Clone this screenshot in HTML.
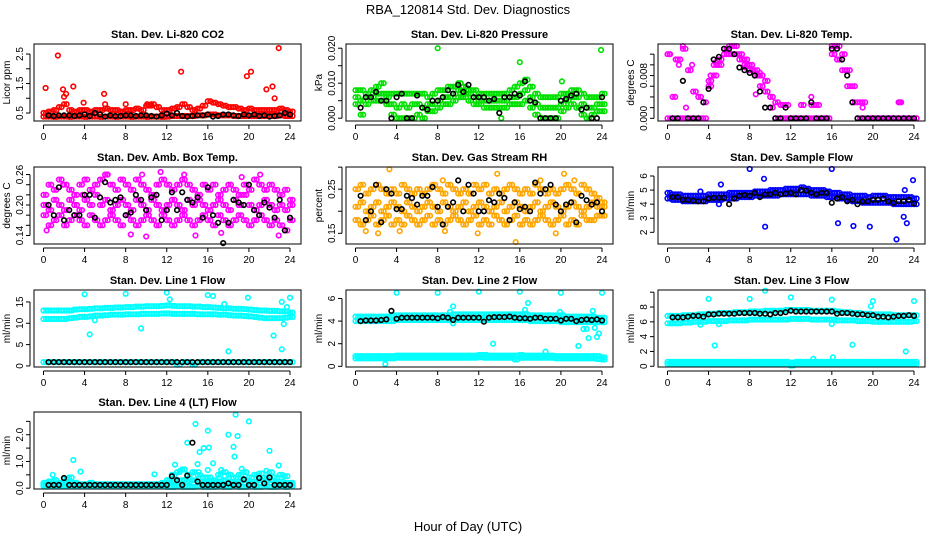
<!DOCTYPE html>
<html><head><meta charset="utf-8"><style>
body{margin:0;background:#fff}
svg{display:block;font-family:"Liberation Sans",sans-serif}
</style></head><body>
<svg id="chart" width="936" height="540" viewBox="0 0 936 540">
<text x="468" y="14" text-anchor="middle" font-size="13">RBA_120814  Std. Dev. Diagnostics</text>
<text x="468" y="531" text-anchor="middle" font-size="13">Hour of Day (UTC)</text>
</svg>
<script>
const xTicks=[0,4,8,12,16,20,24];
// panel 1 CO2
const co2Hi=[0.5,0.55,0.6,0.7,0.8,0.6,0.55,0.6,0.6,0.55,0.6,0.6,0.65,0.6,0.6,0.55,0.6,0.6,0.65,0.6,0.75,0.8,0.7,0.6,0.6,0.65,0.7,0.8,0.7,0.6,0.65,0.75,0.9,0.85,0.8,0.75,0.7,0.7,0.65,0.6,0.65,0.6,0.6,0.6,0.6,0.6,0.65,0.6,0.55];
const co2Lo=[0.38,0.38,0.37,0.38,0.38,0.37,0.38,0.38,0.37,0.38,0.38,0.37,0.38,0.38,0.37,0.38,0.38,0.37,0.38,0.38,0.37,0.38,0.38,0.37,0.38,0.4,0.4,0.4,0.4,0.4,0.42,0.42,0.45,0.45,0.42,0.42,0.42,0.4,0.4,0.4,0.4,0.4,0.4,0.4,0.4,0.4,0.42,0.4,0.4];
const co2Out=[[0.2,1.35],[1.4,2.45],[1.9,1.3],[2.0,1.05],[2.2,1.15],[2.9,1.4],[3.9,0.85],[5.9,1.15],[6.0,0.8],[13.4,1.9],[19.8,1.75],[20.2,1.9],[21.7,1.3],[22.3,1.4],[22.5,1.0],[22.9,2.7],[10.1,0.8],[10.5,0.75],[8.0,0.8]];
const co2Mean=[0.42,0.4,0.42,0.42,0.42,0.4,0.42,0.45,0.4,0.5,0.45,0.38,0.42,0.4,0.4,0.42,0.42,0.4,0.42,0.42,0.4,0.38,0.42,0.48,0.42,0.5,0.4,0.38,0.4,0.42,0.42,0.45,0.38,0.4,0.45,0.45,0.42,0.4,0.45,0.42,0.45,0.4,0.42,0.38,0.4,0.42,0.5,0.45];
// panel 2 pressure
const presHi=[0.008,0.008,0.007,0.008,0.009,0.01,0.007,0.007,0.007,0.007,0.007,0.007,0.007,0.007,0.006,0.007,0.008,0.008,0.009,0.009,0.01,0.009,0.008,0.008,0.007,0.007,0.007,0.007,0.007,0.007,0.008,0.009,0.01,0.011,0.009,0.007,0.006,0.006,0.006,0.006,0.007,0.007,0.008,0.008,0.007,0.006,0.006,0.006,0.007];
const presMid=[0.006,0.005,0.006,0.006,0.007,0.007,0.006,0.004,0.003,0.004,0.003,0.004,0.004,0.003,0.004,0.004,0.005,0.006,0.006,0.007,0.008,0.007,0.007,0.006,0.005,0.005,0.005,0.005,0.005,0.005,0.006,0.006,0.007,0.008,0.006,0.004,0.003,0.003,0.003,0.003,0.004,0.005,0.006,0.006,0.004,0.003,0.003,0.004,0.004];
const presLo=[0.004,0.001,0.004,0.005,0.005,0.005,0.004,0.001,0.0,0.0,0.0,0.0,0.001,0.0,0.002,0.002,0.003,0.004,0.004,0.005,0.006,0.006,0.005,0.004,0.004,0.003,0.003,0.003,0.003,0.003,0.004,0.004,0.004,0.005,0.003,0.001,0.0,0.0,0.0,0.0,0.002,0.003,0.004,0.003,0.001,0.0,0.001,0.002,0.002];
const presOut=[[8,0.02],[16,0.016],[20.1,0.0105],[23.9,0.0195],[14.2,0.0]];
const presMean=[0.003,0.006,0.006,0.0075,0.005,0.005,0.0,0.006,0.007,0.0,0.0,0.0065,0.003,0.0025,0.005,0.005,0.006,0.008,0.007,0.0095,0.0075,0.0095,0.006,0.006,0.006,0.005,0.0055,0.0015,0.006,0.006,0.007,0.0065,0.0105,0.005,0.0045,0.0,0.0,0.0,0.0,0.005,0.0055,0.0065,0.007,0.0025,0.003,0.0,0.0,0.006];
// panel 3 temp
const tempHi=[0.012,0.004,0.011,0.013,0.009,0.005,0.004,0.003,0.007,0.010,0.011,0.013,0.0135,0.0135,0.012,0.011,0.010,0.009,0.008,0.007,0.004,0.003,0.0025,0.0025,0.0,0.0,0.0025,0.0,0.0025,0.0025,0.0,0.0,0.0135,0.0135,0.012,0.009,0.006,0.003,0.003,0.0,0.0,0.0,0.0,0.0,0.0,0.003,0.0,0.0,0.0];
const tempLo=[0,0,0,0,0,0,0,0,0.006,0.008,0.010,0.012,0.012,0.012,0.011,0.010,0.009,0.008,0.006,0.005,0.002,0,0,0,0,0,0,0,0,0,0,0,0.012,0.011,0.009,0.006,0.003,0,0,0,0,0,0,0,0,0,0,0,0];
const tempOut=[[0.2,0.012],[0.8,0.011],[1.1,0.010],[1.5,0.0135],[2.4,0.010],[1.8,0.002],[4.2,0.008],[9.0,0.0085],[22.6,0.003],[19.0,0.002],[4.7,0.0105],[7.6,0.0095],[8.6,0.0045],[14.0,0.004]];
const tempMean=[0,0,0.007,0,0,0,0.003,0.0055,0.011,0.0115,0.013,0.013,0.012,0.0095,0.009,0.0085,0.008,0.005,0.002,0.002,0,0,0.002,0,0,0,0,0.003,0,0,0,0.013,0.013,0.011,0.008,0.003,0,0,0,0,0,0,0,0,0,0,0,0];
// panel 4 amb box temp
const ambHi=[0.22,0.24,0.23,0.25,0.24,0.23,0.22,0.24,0.25,0.23,0.24,0.25,0.26,0.24,0.23,0.25,0.24,0.23,0.25,0.24,0.23,0.22,0.24,0.25,0.24,0.23,0.24,0.25,0.24,0.23,0.22,0.24,0.23,0.24,0.22,0.23,0.24,0.23,0.22,0.24,0.23,0.25,0.24,0.23,0.24,0.23,0.22,0.23,0.21];
const ambMid=[0.20,0.19,0.21,0.20,0.19,0.21,0.20,0.19,0.21,0.20,0.22,0.20,0.21,0.19,0.20,0.21,0.20,0.19,0.21,0.20,0.19,0.21,0.20,0.19,0.20,0.21,0.20,0.19,0.21,0.20,0.21,0.20,0.19,0.20,0.21,0.20,0.19,0.21,0.20,0.22,0.20,0.19,0.20,0.21,0.20,0.19,0.20,0.19,0.20];
const ambLo=[0.18,0.16,0.17,0.18,0.16,0.17,0.18,0.17,0.16,0.18,0.17,0.16,0.17,0.18,0.17,0.16,0.18,0.17,0.16,0.17,0.18,0.17,0.16,0.18,0.17,0.16,0.17,0.18,0.17,0.16,0.17,0.18,0.17,0.16,0.18,0.17,0.16,0.17,0.18,0.17,0.16,0.17,0.18,0.17,0.16,0.17,0.16,0.15,0.17];
const ambOut=[[0.3,0.15],[1.9,0.24],[3.8,0.22],[6.2,0.26],[9.6,0.26],[11.4,0.265],[13.7,0.26],[17.3,0.145],[19.3,0.255],[21.1,0.26],[22.9,0.14],[8.5,0.142],[14.8,0.14],[10.0,0.138]];
const ambMean=[0.20,0.18,0.235,0.17,0.19,0.18,0.18,0.22,0.22,0.175,0.215,0.245,0.205,0.21,0.215,0.18,0.185,0.22,0.21,0.19,0.215,0.22,0.17,0.19,0.225,0.19,0.225,0.21,0.205,0.215,0.175,0.235,0.18,0.165,0.125,0.165,0.21,0.205,0.20,0.24,0.19,0.18,0.205,0.195,0.175,0.21,0.15,0.175];
// panel 5 RH
const rhHi=[0.25,0.26,0.24,0.25,0.26,0.25,0.24,0.25,0.24,0.26,0.25,0.24,0.25,0.24,0.25,0.26,0.25,0.24,0.26,0.25,0.24,0.25,0.24,0.26,0.25,0.26,0.24,0.25,0.24,0.25,0.26,0.25,0.24,0.25,0.24,0.26,0.25,0.24,0.25,0.24,0.25,0.26,0.25,0.24,0.26,0.25,0.24,0.23,0.22];
const rhMid=[0.21,0.22,0.20,0.21,0.22,0.20,0.21,0.22,0.21,0.20,0.22,0.21,0.20,0.21,0.22,0.21,0.20,0.22,0.21,0.20,0.21,0.22,0.20,0.21,0.22,0.21,0.20,0.21,0.22,0.20,0.21,0.22,0.21,0.20,0.21,0.22,0.20,0.21,0.22,0.21,0.20,0.21,0.22,0.21,0.20,0.21,0.22,0.21,0.21];
const rhLo=[0.18,0.17,0.18,0.19,0.17,0.18,0.19,0.17,0.18,0.17,0.19,0.18,0.17,0.18,0.19,0.17,0.18,0.17,0.18,0.19,0.18,0.17,0.18,0.19,0.17,0.18,0.17,0.19,0.18,0.17,0.18,0.19,0.17,0.18,0.17,0.18,0.19,0.18,0.17,0.18,0.19,0.17,0.18,0.17,0.19,0.18,0.18,0.19,0.19];
const rhOut=[[0.5,0.17],[1.0,0.155],[2.2,0.15],[3.3,0.295],[4.3,0.155],[8.7,0.155],[8.5,0.27],[11.9,0.15],[13.8,0.285],[15.6,0.13],[18.0,0.27],[19.5,0.15],[20.3,0.285],[21.3,0.27]];
const rhMean=[0.235,0.18,0.2,0.26,0.175,0.25,0.24,0.205,0.205,0.235,0.23,0.215,0.235,0.235,0.255,0.21,0.17,0.21,0.22,0.27,0.2,0.26,0.24,0.2,0.2,0.225,0.22,0.24,0.23,0.18,0.22,0.205,0.21,0.2,0.265,0.24,0.25,0.26,0.215,0.2,0.215,0.22,0.175,0.235,0.225,0.215,0.22,0.2];
// panel 6 sample flow
const sfHi=[4.8,4.7,4.7,4.6,4.6,4.6,4.6,4.6,4.7,4.7,4.7,4.7,4.8,4.8,4.8,4.8,4.8,4.9,4.9,4.9,5.0,5.0,5.0,5.1,5.1,5.1,5.2,5.1,5.0,5.0,5.0,4.9,4.8,4.8,4.7,4.7,4.6,4.6,4.6,4.5,4.6,4.6,4.6,4.5,4.5,4.5,4.5,4.5,4.4];
const sfLo=[4.4,4.3,4.3,4.2,4.2,4.2,4.2,4.2,4.3,4.3,4.3,4.4,4.4,4.4,4.5,4.5,4.5,4.6,4.6,4.6,4.6,4.6,4.7,4.7,4.7,4.7,4.7,4.7,4.6,4.6,4.6,4.5,4.5,4.4,4.4,4.3,4.2,4.2,4.1,4.1,4.1,4.1,4.1,4.1,4.0,4.0,4.0,4.0,4.0];
const sfOut=[[5.2,5.4],[8.0,6.5],[9.4,5.8],[9.5,2.4],[16.0,6.5],[16.6,2.65],[18.1,2.45],[19.7,2.4],[22.3,1.5],[23.0,3.1],[23.3,2.65],[23.9,5.7],[23.1,5.0],[5.0,4.0],[3.2,4.9]];
const sfMean=[4.5,4.5,4.3,4.3,4.25,4.2,4.2,4.4,4.45,4.45,4.45,4.0,4.4,4.6,4.65,4.6,4.8,4.5,4.7,4.7,4.8,4.7,4.75,4.8,4.7,5.0,4.95,4.8,4.7,4.8,4.8,4.1,4.4,4.5,4.2,4.3,4.0,4.2,4.2,4.3,4.3,4.4,4.2,4.1,4.2,4.2,4.3,4.05];
// panel 7 line 1
const l1Hi=[13,13,13,13,13,13,13.2,13.3,13.3,13.4,13.5,13.5,13.6,13.6,13.7,13.7,13.8,13.8,13.9,13.9,14,14,14,14.1,14.2,14.1,14,14,14,13.9,13.9,13.8,13.8,13.7,13.6,13.5,13.5,13.4,13.4,13.3,13.2,13.1,13,13,12.9,12.9,12.8,12.8,12.5];
const l1Lo=[11,11,11,11,11,11.2,11.3,11.5,11.5,11.6,11.8,11.8,11.9,12,12,12,12.1,12.1,12.1,12.2,12.2,12.2,12.2,12.3,12.3,12.2,12.2,12.2,12.2,12.2,12.1,12.1,12.1,12.1,12,12,11.9,11.8,11.8,11.7,11.6,11.5,11.3,11.2,11.2,11.2,11.2,11.3,11.5];
const l1Base=[0.9,0.9,0.9,0.9,0.9,0.9,0.9,0.9,0.9,0.9,0.9,0.9,0.9,0.9,0.9,0.9,0.9,0.9,0.9,0.9,0.9,0.9,0.9,0.9,0.9,0.9,0.3,0.9,0.9,0.3,0.9,0.9,0.9,0.9,0.9,0.9,0.9,0.9,0.9,0.9,0.9,0.9,0.9,0.9,0.9,0.9,0.9,0.9,0.9];
const l1Out=[[4,16.8],[8,16.9],[12,17.2],[12.3,15.6],[16,16.6],[16.5,16.4],[17.6,14.5],[19.9,16],[24,16],[23.2,15],[4.5,7.4],[5,10.7],[9.5,8.8],[18,3.4],[22.4,7.1],[23.2,3.9],[23.4,9.8],[23.7,13.8]];
const l1Mean=[0.9,0.9,0.9,0.9,0.9,0.9,0.9,0.9,0.9,0.9,0.9,0.9,0.9,0.9,0.9,0.9,0.9,0.9,0.9,0.9,0.9,0.9,0.9,0.9,0.9,0.9,0.9,0.9,0.9,0.9,0.9,0.9,0.9,0.9,0.9,0.9,0.9,0.9,0.9,0.9,0.9,0.9,0.9,0.9,0.9,0.9,0.9,0.9];
// panel 8 line 2
const l2Hi=[4.4,4.4,4.4,4.4,4.4,4.4,4.4,4.5,4.5,4.5,4.5,4.5,4.5,4.5,4.5,4.5,4.5,4.5,4.5,4.6,4.6,4.6,4.6,4.6,4.6,4.6,4.6,4.6,4.6,4.6,4.6,4.6,4.6,4.6,4.5,4.5,4.5,4.5,4.5,4.5,4.5,4.4,4.4,4.4,4.4,4.4,4.4,4.3,4.3];
const l2Lo=[4.0,4.0,4.0,4.0,4.0,4.0,4.0,4.0,4.1,4.1,4.1,4.1,4.1,4.1,4.1,4.1,4.1,4.1,4.1,4.1,4.1,4.1,4.1,4.1,4.1,4.1,4.1,4.1,4.1,4.1,4.1,4.1,4.1,4.1,4.0,4.0,4.0,4.0,4.0,4.0,3.9,3.9,3.9,3.9,3.9,3.9,3.9,3.9,3.9];
const l2BaseHi=[0.9,0.9,0.9,0.9,0.9,0.9,0.9,0.9,0.95,0.95,0.95,0.95,0.95,0.95,0.95,0.95,0.95,0.95,0.95,0.95,0.95,0.95,0.95,0.95,1.0,1.0,0.95,0.95,0.95,0.95,0.95,0.95,1.0,0.95,0.95,0.95,0.95,0.95,0.95,0.9,0.9,0.9,0.9,0.9,0.9,0.9,0.9,0.9,0.8];
const l2BaseLo=[0.7,0.7,0.7,0.7,0.7,0.7,0.7,0.7,0.75,0.75,0.75,0.75,0.75,0.75,0.75,0.75,0.75,0.75,0.75,0.75,0.75,0.75,0.75,0.75,0.8,0.75,0.75,0.75,0.75,0.75,0.75,0.6,0.75,0.75,0.75,0.75,0.75,0.75,0.75,0.7,0.7,0.7,0.7,0.7,0.7,0.7,0.7,0.65,0.6];
const l2Out=[[4,6.5],[8,6.5],[12,6.6],[16,6.6],[20,6.5],[24,6.5],[9.5,5.3],[9.2,4.8],[16.5,5.0],[16.8,5.6],[13.4,2.0],[2.9,0.2],[18.5,1.3],[21.7,1.8],[22.2,3.3],[22.5,3.3],[22.7,2.5],[23.1,4.9],[23.5,2.6],[23.7,2.9],[23.3,3.4],[19.9,4.8],[9.5,3.8]];
const l2Mean=[4.0,4.05,4.05,4.05,4.1,4.15,4.9,4.2,4.3,4.3,4.3,4.3,4.3,4.3,4.3,4.25,4.35,4.3,4.1,4.3,4.3,4.3,4.3,4.3,3.95,4.3,4.35,4.35,4.35,4.4,4.3,4.25,4.25,4.2,4.3,4.3,4.2,4.2,4.2,4.05,4.2,4.2,4.0,4.1,4.15,4.1,4.15,4.05];
// panel 9 line 3
const l3Hi=[6.8,6.8,6.8,6.9,6.9,6.9,7.0,7.0,7.1,7.1,7.2,7.2,7.2,7.3,7.3,7.3,7.4,7.4,7.4,7.5,7.5,7.5,7.5,7.6,7.6,7.6,7.6,7.6,7.5,7.5,7.5,7.5,7.5,7.4,7.3,7.3,7.2,7.2,7.1,7.1,7.0,7.0,7.0,7.0,6.9,6.9,6.9,6.9,6.9];
const l3Lo=[5.8,5.8,5.8,5.9,5.9,6.0,6.0,6.0,6.1,6.1,6.1,6.1,6.2,6.2,6.2,6.2,6.3,6.3,6.3,6.3,6.3,6.3,6.3,6.3,6.4,6.4,6.4,6.4,6.3,6.3,6.3,6.3,6.3,6.2,6.2,6.2,6.2,6.1,6.1,6.1,6.0,6.0,6.0,6.0,6.0,6.0,6.0,6.0,6.1];
const l3BaseHi=[0.6,0.6,0.6,0.6,0.6,0.6,0.6,0.6,0.6,0.6,0.6,0.6,0.6,0.6,0.6,0.6,0.6,0.6,0.6,0.6,0.6,0.6,0.6,0.6,0.5,0.6,0.6,0.6,0.6,0.6,0.6,0.6,0.6,0.6,0.6,0.6,0.6,0.6,0.6,0.6,0.6,0.6,0.6,0.6,0.6,0.6,0.6,0.6,0.6];
const l3BaseLo=[0.3,0.3,0.3,0.3,0.3,0.3,0.3,0.3,0.3,0.3,0.3,0.3,0.3,0.3,0.3,0.3,0.3,0.3,0.3,0.3,0.3,0.3,0.3,0.3,0.1,0.3,0.3,0.3,0.3,0.3,0.3,0.3,0.3,0.3,0.3,0.3,0.3,0.3,0.3,0.3,0.3,0.3,0.3,0.3,0.3,0.3,0.3,0.3,0.3];
const l3Out=[[4,9.1],[8,9.1],[9.5,10.2],[12,9.3],[16,9.0],[20,8.8],[24,8.8],[4.6,2.8],[18,2.9],[23.2,2.0],[14.2,1.0],[16.1,1.2],[16,5.7],[3.2,5.6],[5,5.7],[19.8,8.1]];
const l3Mean=[6.6,6.6,6.6,6.7,6.8,6.8,6.7,7.0,7.0,7.1,7.1,7.1,7.1,7.2,7.2,7.2,7.2,7.1,7.1,7.0,7.2,7.2,7.3,7.5,7.4,7.4,7.4,7.4,7.4,7.4,7.4,7.4,7.1,7.2,7.2,7.1,7.0,7.0,6.9,6.9,6.7,6.7,6.6,6.7,6.8,6.8,6.9,6.8];
// panel 10 line 4
const l4Hi=[0.2,0.25,0.3,0.2,0.35,0.4,0.2,0.15,0.15,0.2,0.15,0.15,0.15,0.15,0.15,0.15,0.15,0.15,0.15,0.15,0.15,0.15,0.15,0.2,0.3,0.5,0.6,0.7,0.5,0.6,0.5,0.4,0.4,0.3,0.5,0.6,0.5,0.4,0.5,0.6,0.4,0.5,0.55,0.4,0.6,0.4,0.5,0.45,0.2];
const l4Mid=[0.12,0.12,0.15,0.12,0.2,0.2,0.12,0.12,0.12,0.12,0.12,0.12,0.12,0.12,0.12,0.12,0.12,0.12,0.12,0.12,0.12,0.12,0.12,0.12,0.2,0.25,0.3,0.3,0.25,0.3,0.25,0.2,0.2,0.2,0.25,0.3,0.25,0.2,0.25,0.3,0.2,0.25,0.3,0.2,0.3,0.2,0.25,0.2,0.15];
const l4Lo=[0.08,0.08,0.08,0.08,0.08,0.08,0.08,0.08,0.08,0.08,0.08,0.08,0.08,0.08,0.08,0.08,0.08,0.08,0.08,0.08,0.08,0.08,0.08,0.08,0.05,0.05,0.08,0.05,0.05,0.05,0.08,0.05,0.05,0.05,0.08,0.05,0.05,0.08,0.05,0.05,0.08,0.05,0.05,0.08,0.05,0.05,0.08,0.05,0.08];
const l4Out=[[0.9,0.5],[2.9,1.05],[3.6,0.62],[10.8,0.52],[12.8,0.88],[13.3,0.65],[14.0,1.7],[14.8,2.4],[15.2,1.35],[15.6,1.5],[16.0,2.15],[16.1,1.52],[15.0,0.9],[16.5,0.93],[18.0,2.0],[18.5,1.55],[18.6,1.18],[18.7,2.75],[18.9,1.95],[19.3,0.72],[20.0,2.5],[22.0,1.4],[21.7,0.65],[22.9,0.85],[16.0,0.68],[17.3,0.68],[15.1,0.6]];
const l4Mean=[0.12,0.12,0.12,0.38,0.12,0.12,0.12,0.12,0.12,0.12,0.12,0.12,0.12,0.12,0.12,0.12,0.12,0.12,0.12,0.12,0.12,0.12,0.12,0.12,0.45,0.3,0.12,0.47,1.7,0.25,0.12,0.12,0.12,0.12,0.12,0.18,0.12,0.12,0.33,0.12,0.12,0.38,0.18,0.4,0.12,0.12,0.12,0.12];

const panels=[
 {name:'co2',title:'Stan. Dev. Li-820 CO2',ylab:'Licor ppm',col:0,row:0,ylim:[0.23,2.84],ticks:[0.5,1,1.5,2,2.5],labels:['0.5','1.5','2.5'],color:'#ff0000',bands:[co2Hi,co2Lo],out:co2Out,mean:co2Mean},
 {name:'pressure',title:'Stan. Dev. Li-820 Pressure',ylab:'kPa',col:1,row:0,ylim:[-0.0008,0.0212],ticks:[0,0.005,0.01,0.015,0.02],labels:['0.000','0.010','0.020'],color:'#00e000',bands:[presHi,presMid,presLo],out:presOut,mean:presMean},
 {name:'temp',title:'Stan. Dev. Li-820 Temp.',ylab:'degrees C',col:2,row:0,ylim:[-0.0005,0.0139],ticks:[0,0.002,0.004,0.006,0.008,0.010,0.012],labels:['0.000','0.008'],color:'#ff00ff',bands:[tempHi,tempLo],out:tempOut,mean:tempMean},
 {name:'amb-temp',title:'Stan. Dev. Amb. Box Temp.',ylab:'degrees C',col:0,row:1,ylim:[0.1232,0.2749],ticks:[0.14,0.16,0.18,0.20,0.22,0.24,0.26],labels:['0.14','0.20','0.26'],color:'#ff00ff',bands:[ambHi,ambMid,ambLo],out:ambOut,mean:ambMean},
 {name:'rh',title:'Stan. Dev. Gas Stream RH',ylab:'percent',col:1,row:1,ylim:[0.1258,0.3003],ticks:[0.15,0.20,0.25,0.30],labels:['0.15','0.25'],color:'#ffa500',bands:[rhHi,rhMid,rhLo],out:rhOut,mean:rhMean},
 {name:'sample-flow',title:'Stan. Dev. Sample Flow',ylab:'ml/min',col:2,row:1,ylim:[1.17,6.64],ticks:[2,3,4,5,6],labels:['2','3','4','5','6'],color:'#0000ff',bands:[sfHi,sfLo],out:sfOut,mean:sfMean},
 {name:'line1',title:'Stan. Dev. Line 1 Flow',ylab:'ml/min',col:0,row:2,ylim:[-0.25,17.8],ticks:[0,5,10,15],labels:['0','5','10','15'],color:'#00ffff',bands:[l1Hi,l1Lo,l1Base],out:l1Out,mean:l1Mean},
 {name:'line2',title:'Stan. Dev. Line 2 Flow',ylab:'ml/min',col:1,row:2,ylim:[-0.06,6.75],ticks:[0,2,4,6],labels:['0','2','4','6'],color:'#00ffff',bands:[l2Hi,l2Lo,l2BaseHi,l2BaseLo],out:l2Out,mean:l2Mean},
 {name:'line3',title:'Stan. Dev. Line 3 Flow',ylab:'ml/min',col:2,row:2,ylim:[-0.1,10.3],ticks:[0,2,4,6,8,10],labels:['0','2','4','6','8'],color:'#00ffff',bands:[l3Hi,l3Lo,l3BaseHi,l3BaseLo],out:l3Out,mean:l3Mean},
 {name:'line4',title:'Stan. Dev. Line 4 (LT) Flow',ylab:'ml/min',col:0,row:3,ylim:[-0.03,2.85],ticks:[0,0.5,1,1.5,2,2.5],labels:['0.0','1.0','2.0'],color:'#00ffff',bands:[l4Hi,l4Mid,l4Lo],out:l4Out,mean:l4Mean}
];
const svg=document.getElementById('chart');
const NS='http://www.w3.org/2000/svg';
function mk(tag,attrs,parent){const e=document.createElementNS(NS,tag);for(const k in attrs)e.setAttribute(k,attrs[k]);(parent||svg).appendChild(e);return e;}
const colX=[34,346,658], rowY=[44,167,290,412], W=267, H=77;
panels.forEach(p=>{
 const L=colX[p.col],T=rowY[p.row],R=L+W,B=T+H;
 const g=mk('g',{});
 
 
 const xScale=t=>(L+9.5)+t*(246.5/24);
 const yScale=v=>B-(v-p.ylim[0])/(p.ylim[1]-p.ylim[0])*H;
 const tt=mk('text',{x:L+W/2,y:T-6,'text-anchor':'middle','font-size':'11','font-weight':'bold'},g);
 tt.textContent=p.title;
 
 
 const pts=mk('g',{fill:'none','stroke-width':'1.6'},g);
 
 
 const dot=(t,v,c,par)=>{const y=yScale(v);if(y<T-1||y>B+1)return;const c1=mk('circle',{cx:xScale(t).toFixed(1),cy:y.toFixed(1),r:'2.3',stroke:c},par);
  
  };
 p.bands.forEach(arr=>arr.forEach((v,i)=>{dot(i*0.5,v,p.color,pts);dot(i*0.5+0.25,v,p.color,pts);}));
 p.out.forEach(o=>dot(o[0],o[1],p.color,pts));
 const mg=mk('g',{fill:'none','stroke-width':'1.6'},g);
 
 
 p.mean.forEach((v,i)=>dot((i+1)*0.5,v,'#000',mg));
 const box=mk('rect',{x:L,y:T,width:W,height:H,fill:'none',stroke:'#000','stroke-width':'1'},g);
 
 
 const xa=mk('g',{stroke:'#000','font-size':'10'},g);
 
 
 mk('line',{x1:xScale(0),x2:xScale(24),y1:B+4,y2:B+4},xa);
 xTicks.forEach(t=>{mk('line',{x1:xScale(t),x2:xScale(t),y1:B+4,y2:B+8},xa);
  const tx=mk('text',{x:xScale(t),y:B+19,'text-anchor':'middle',stroke:'none',fill:'#000'},xa);tx.textContent=t;
  
  });
 const ya=mk('g',{stroke:'#000','font-size':'10'},g);
 
 
 const t0=p.ticks[0],t1=p.ticks[p.ticks.length-1];
 mk('line',{x1:L-4,x2:L-4,y1:yScale(t0),y2:yScale(t1)},ya);
 p.ticks.forEach(v=>mk('line',{x1:L-8,x2:L-4,y1:yScale(v),y2:yScale(v)},ya));
 p.labels.forEach(s=>{const y=yScale(parseFloat(s));const tx=mk('text',{x:L-11,y:y,'text-anchor':'middle',stroke:'none',fill:'#000',transform:`rotate(-90 ${L-11} ${y})`},ya);tx.textContent=s;
  
  });
 const yl=mk('text',{x:L-24,y:T+H/2,'text-anchor':'middle','font-size':'10',transform:`rotate(-90 ${L-24} ${T+H/2})`},g);
 yl.textContent=p.ylab;
 
 
});
</script>
</body></html>
